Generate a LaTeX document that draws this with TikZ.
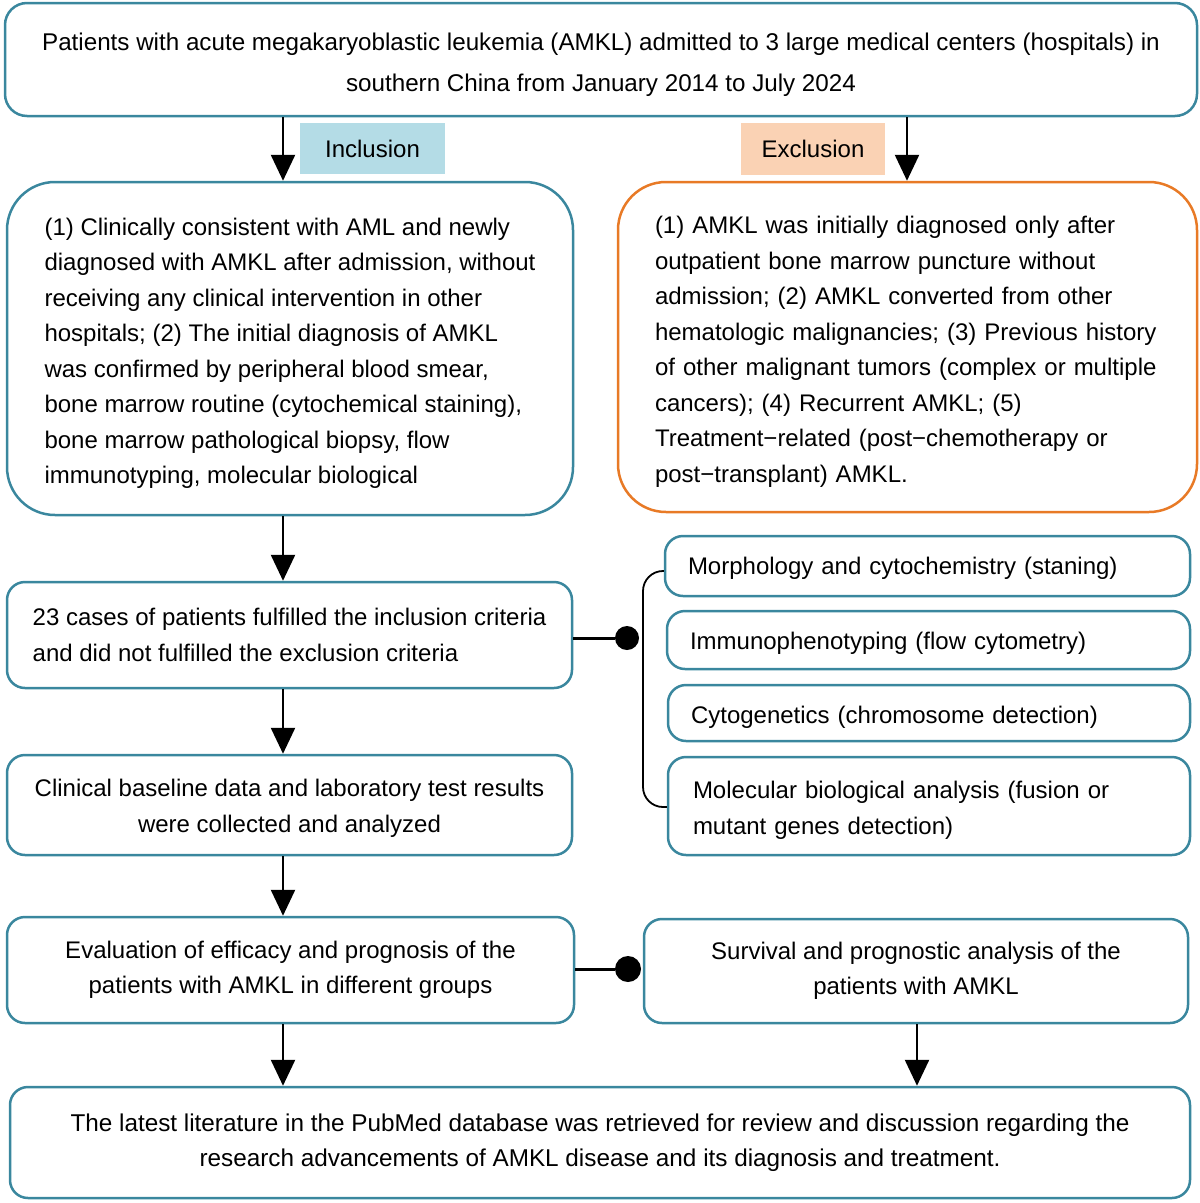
\documentclass[tikz,border=0pt]{standalone}
\usepackage{fontspec}
\setmainfont{Liberation Sans}
\usetikzlibrary{arrows.meta,calc}
\definecolor{teal}{RGB}{58,135,158}
\definecolor{orng}{RGB}{232,122,38}
\definecolor{inclfill}{RGB}{180,220,230}
\definecolor{exclfill}{RGB}{250,210,180}
\newcommand{\dn}[1]{\rule{0pt}{#1}}
\begin{document}
\begin{tikzpicture}[x=1pt,y=-1pt,
  box/.style={draw=teal,line width=2.5pt,rounded corners=18pt,inner sep=0pt,
    font=\fontsize{24}{35.5}\selectfont},
  bigbox/.style={box,rounded corners=48pt},
  lbl/.style={inner sep=0pt,font=\fontsize{24}{26}\selectfont},
  arr/.style={line width=2.5pt,-{Triangle[width=24pt,length=26pt]}},
  dot/.style={circle,fill=black,inner sep=0pt,minimum size=#1},
  con/.style={line width=3pt}
]
\useasboundingbox (0,0) rectangle (1200,1203);
\coordinate (colL) at (283,0);
\coordinate (colR) at (907,0);
\coordinate (colR2) at (917,0);
\coordinate (brx) at (643,0);

\node[box,rounded corners=22pt,minimum width=1192pt,minimum height=113pt,
  font=\fontsize{24.2}{41}\selectfont,align=center] (top) at (601,59.5)
  {\dn{28pt}Patients with acute megakaryoblastic leukemia (AMKL) admitted to 3 large medical centers (hospitals) in\\
   southern China from January 2014 to July 2024};

\node[lbl,fill=inclfill,minimum width=145pt,minimum height=51pt] (incl) at (372.5,148.5) {\dn{18pt}Inclusion};
\node[lbl,fill=exclfill,minimum width=144pt,minimum height=52pt] (excl) at (813,149) {\dn{18pt}Exclusion};

\node[bigbox,minimum width=566pt,minimum height=333pt,align=left] (ibox) at (290,348.5)
  {\dn{27pt}(1) Clinically consistent with AML and newly\\
   diagnosed with AMKL after admission, without\\
   receiving any clinical intervention in other\\
   hospitals; (2) The initial diagnosis of AMKL\\
   was confirmed by peripheral blood smear,\\
   bone marrow routine (cytochemical staining),\\
   bone marrow pathological biopsy, flow\\
   immunotyping, molecular biological};

\node[bigbox,draw=orng,minimum width=579pt,minimum height=330pt,text width=505pt,align=left,
  inner xsep=37pt] (ebox) at (907.5,347)
  {\dn{27pt}(1) AMKL was initially diagnosed only after\\
   outpatient bone marrow puncture without\\
   admission; (2) AMKL converted from other\\
   hematologic malignancies; (3) Previous history\\
   of other malignant tumors (complex or multiple\\
   cancers); (4) Recurrent AMKL; (5)\\
   Treatment\textminus related (post\textminus chemotherapy or\\
   post\textminus transplant) AMKL.};

\node[box,minimum width=565pt,minimum height=106pt,align=left] (cases) at (289.5,635)
  {23 cases of patients fulfilled the inclusion criteria\\
   and did not fulfilled the exclusion criteria};

\node[box,minimum width=565pt,minimum height=100pt,align=center] (clin) at (289.5,805)
  {\dn{24pt}Clinical baseline data and laboratory test results\\ were collected and analyzed};

\node[box,minimum width=567pt,minimum height=106pt,align=center] (eval) at (290.5,970)
  {Evaluation of efficacy and prognosis of the\\ patients with AMKL in different groups};

\node[box,minimum width=544pt,minimum height=104pt,align=center] (surv) at (916,971)
  {Survival and prognostic analysis of the\\ patients with AMKL};

\node[box,minimum width=1180pt,minimum height=111pt,align=center,
  font=\fontsize{24.3}{35.5}\selectfont] (bot) at (600,1142.5)
  {The latest literature in the PubMed database was retrieved for review and discussion regarding the\\
   research advancements of AMKL disease and its diagnosis and treatment.};

\node[box,minimum width=525pt,minimum height=60pt,text width=479pt,inner xsep=23pt,align=left]
  (morph) at (927.5,566) {\dn{22pt}Morphology and cytochemistry (staning)};
\node[box,minimum width=523pt,minimum height=58pt,text width=477pt,inner xsep=23pt,align=left]
  (immu) at (928.5,640) {\dn{24pt}Immunophenotyping (flow cytometry)};
\node[box,minimum width=522pt,minimum height=56pt,text width=476pt,inner xsep=23pt,align=left]
  (cyto) at (929,713) {\dn{25pt}Cytogenetics (chromosome detection)};
\node[box,minimum width=522pt,minimum height=98pt,text width=472pt,inner xsep=25pt,align=left]
  (molec) at (929,806) {\dn{26pt}Molecular biological analysis (fusion or\\ mutant genes detection)};

\draw[arr] (top.south -| colL) -- (ibox.north -| colL);
\draw[arr] (top.south -| colR) -- (ebox.north -| colR);
\draw[arr] (ibox.south -| colL) -- (cases.north -| colL);
\draw[arr] (cases.south -| colL) -- (clin.north -| colL);
\draw[arr] (clin.south -| colL) -- (eval.north -| colL);
\draw[arr] (eval.south -| colL) -- (bot.north -| colL);
\draw[arr] (surv.south -| colR2) -- (bot.north -| colR2);

\node[dot=24pt] (d1) at (627,638) {};
\node[dot=26pt] (d2) at (628,969) {};
\draw[con] (cases.east |- d1) -- (d1);
\draw[con] (eval.east |- d2) -- (d2);
\draw[line width=1.8pt,rounded corners=20pt] ($(morph.west)+(0,5)$) -- ($(morph.west -| brx)+(0,5)$) -- ($(molec.west -| brx)+(0,1)$) -- ($(molec.west)+(0,1)$);
\end{tikzpicture}
\end{document}
